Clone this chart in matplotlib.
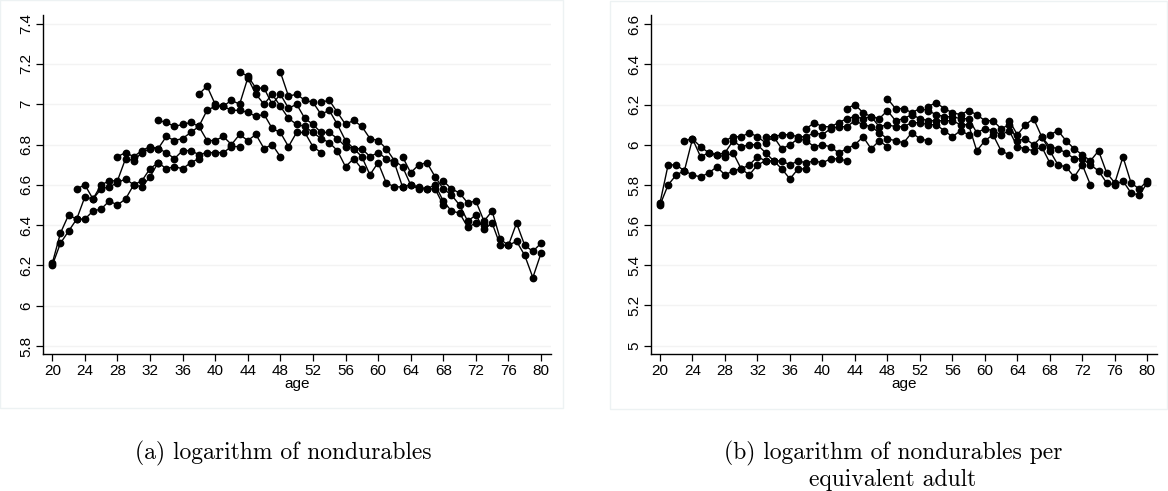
import matplotlib
matplotlib.use("Agg")
import matplotlib.pyplot as plt
from matplotlib.patches import Rectangle

# ---- data: cohort profiles, (first age shown, values by age) ----
# panel (a): log nondurables
a_c13 = (20, [6.20, 6.31, 6.37, 6.43, 6.43, 6.47, 6.48, 6.52, 6.50, 6.53, 6.60, 6.59, 6.64, 6.71])
a_c18 = (20, [6.21, 6.36, 6.45, 6.43, 6.54, 6.53, 6.58, 6.59, 6.61, 6.63, 6.60, 6.62, 6.68, 6.71,
              6.68, 6.69, 6.68, 6.71, 6.73])
a_c23 = (23, [6.58, 6.60, 6.53, 6.60, 6.62, 6.62, 6.73, 6.72, 6.76, 6.78, 6.78, 6.76, 6.73, 6.77,
              6.77, 6.75, 6.76, 6.76, 6.76, 6.79, 6.79])
a_c28 = (28, [6.74, 6.76, 6.74, 6.77, 6.79, 6.78, 6.84, 6.82, 6.83, 6.86, 6.89, 6.82, 6.82, 6.84,
              6.80, 6.85, 6.82, 6.85, 6.78, 6.80, 6.74])
a_c33 = (33, [6.92, 6.91, 6.89, 6.90, 6.91, 6.89, 6.97, 6.99, 6.99, 6.97, 6.97, 6.96, 6.94, 6.95,
              6.88, 6.86, 6.79, 6.86, 6.86, 6.79, 6.76])
a_c38 = (38, [7.05, 7.09, 7.00, 6.99, 7.02, 7.00, 7.13, 7.05, 7.00, 7.05, 6.99, 6.93, 6.90, 6.89,
              6.86, 6.83, 6.81, 6.77, 6.69, 6.73, 6.68])
a_c43 = (43, [7.16, 7.14, 7.08, 7.08, 7.00, 7.05, 6.98, 7.00, 6.93, 6.90, 6.86, 6.86, 6.83, 6.79,
              6.78, 6.74, 6.65, 6.71, 6.61, 6.59, 6.59])
a_c48 = (48, [7.16, 7.04, 7.05, 7.02, 7.01, 6.95, 6.97, 6.90, 6.82, 6.78, 6.78, 6.74, 6.76, 6.73,
              6.71, 6.59, 6.60, 6.58, 6.58, 6.58, 6.50])
a_c53 = (53, [7.01, 7.02, 6.96, 6.90, 6.92, 6.89, 6.83, 6.82, 6.78, 6.72, 6.69, 6.60, 6.59, 6.58,
              6.60, 6.52, 6.47, 6.46, 6.39, 6.41, 6.40])
a_c63 = (63, [6.74, 6.66, 6.70, 6.71, 6.64, 6.58, 6.55, 6.50, 6.42, 6.45, 6.38, 6.41, 6.30, 6.30,
              6.32, 6.25, 6.14, 6.26])
a_c68 = (68, [6.62, 6.58, 6.56, 6.51, 6.52, 6.42, 6.47, 6.33, 6.30, 6.41, 6.30, 6.27, 6.31])

# panel (b): log nondurables per equivalent adult
b_c13 = (20, [5.70, 5.80, 5.85, 5.87, 5.85, 5.84, 5.86, 5.89, 5.85, 5.87, 5.88, 5.85, 5.90, 5.92])
b_c18 = (20, [5.71, 5.90, 5.90, 5.87, 6.03, 5.94, 5.96, 5.95, 5.94, 5.96, 5.88, 5.90, 5.94, 5.92,
              5.92, 5.88, 5.83, 5.88, 5.88])
b_c23 = (23, [6.02, 6.03, 5.99, 5.96, 5.95, 5.96, 6.02, 5.99, 6.00, 6.00, 5.96, 5.92, 5.92, 5.90,
              5.92, 5.91, 5.92, 5.91, 5.93, 5.93, 5.92])
b_c28 = (28, [6.02, 6.04, 6.04, 6.06, 6.04, 6.01, 6.04, 5.98, 6.00, 6.03, 6.02, 5.99, 6.00, 5.99,
              5.96, 5.98, 6.00, 6.04, 5.98, 6.02, 5.99])
b_c33 = (33, [6.04, 6.04, 6.05, 6.05, 6.04, 6.04, 6.06, 6.05, 6.08, 6.09, 6.09, 6.12, 6.10, 6.09,
              6.06, 6.03, 6.02, 6.01, 6.06, 6.03, 6.02])
b_c38 = (38, [6.08, 6.11, 6.09, 6.09, 6.11, 6.13, 6.14, 6.13, 6.14, 6.09, 6.10, 6.09, 6.09, 6.11,
              6.11, 6.10, 6.10, 6.07, 6.04, 6.07, 6.05])
b_c43 = (43, [6.18, 6.20, 6.16, 6.14, 6.13, 6.17, 6.12, 6.13, 6.15, 6.13, 6.12, 6.12, 6.12, 6.12,
              6.10, 6.10, 5.97, 6.02, 6.05, 5.97, 5.95])
b_c48 = (48, [6.23, 6.18, 6.18, 6.16, 6.18, 6.17, 6.15, 6.14, 6.14, 6.13, 6.13, 6.06, 6.08, 6.07,
              6.05, 6.07, 5.99, 5.98, 5.97, 5.99, 5.91])
b_c53 = (53, [6.19, 6.21, 6.18, 6.16, 6.15, 6.17, 6.15, 6.12, 6.12, 6.08, 6.10, 6.02, 6.03, 6.00,
              6.04, 5.97, 5.90, 5.89, 5.84, 5.90, 5.80])
b_c63 = (63, [6.12, 6.05, 6.10, 6.13, 6.04, 5.99, 5.98, 5.96, 5.93, 5.93, 5.90, 5.87, 5.81, 5.80,
              5.82, 5.76, 5.75, 5.81])
b_c68 = (68, [6.05, 6.07, 6.02, 5.98, 5.95, 5.92, 5.97, 5.86, 5.81, 5.94, 5.81, 5.78, 5.82])

x_ticks = list(range(20, 81, 4))
a_yticks = [5.8, 6.0, 6.2, 6.4, 6.6, 6.8, 7.0, 7.2, 7.4]
b_yticks = [5.0, 5.2, 5.4, 5.6, 5.8, 6.0, 6.2, 6.4, 6.6]

a_lines = [a_c13, a_c18, a_c23, a_c28, a_c33, a_c38, a_c43, a_c48, a_c53, a_c63, a_c68]
b_lines = [b_c13, b_c18, b_c23, b_c28, b_c33, b_c38, b_c43, b_c48, b_c53, b_c63, b_c68]

plt.rcParams['font.family'] = ['Liberation Sans', 'DejaVu Sans']

fig = plt.figure(figsize=(11.68, 4.91), dpi=100)

# faint graph-region borders
fig.add_artist(Rectangle((0.0, 83 / 491), 563 / 1168, 408 / 491, transform=fig.transFigure,
                         fill=False, ec='#edf2f3', lw=1.0))
fig.add_artist(Rectangle((610 / 1168, 82 / 491), 557 / 1168, 408 / 491, transform=fig.transFigure,
                         fill=False, ec='#edf2f3', lw=1.0))


def panel(rect, lines, yticks, xlim, ylim):
    ax = fig.add_axes(rect)
    for y in yticks:
        ax.axhline(y, color='#f3f3f3', lw=1.0, zorder=0)
    for start, vals in lines:
        ages = list(range(start, start + len(vals)))
        ax.plot(ages, vals, '-o', color='black', lw=1.0, ms=4.6, zorder=3)
    ax.set_xlim(*xlim)
    ax.set_ylim(*ylim)
    ax.set_xticks(x_ticks)
    ax.set_yticks(yticks)
    ax.set_yticklabels([f"{v:g}" for v in yticks])
    ax.spines['top'].set_visible(False)
    ax.spines['right'].set_visible(False)
    ax.spines['left'].set_linewidth(1.0)
    ax.spines['bottom'].set_linewidth(1.0)
    ax.tick_params(length=5, width=0.9, labelsize=11, pad=2)
    ax.tick_params(axis='y', labelrotation=90)
    for lab in ax.get_yticklabels():
        lab.set_va('center')
    ax.set_xlabel('age', fontsize=11, labelpad=-1)
    return ax


panel([43.3 / 1168, 136.7 / 491, 507.4 / 1168, 339.3 / 491], a_lines, a_yticks,
      (18.9, 81.19), (5.759, 7.443))
panel([651.3 / 1168, 136.7 / 491, 506 / 1168, 339.3 / 491], b_lines, b_yticks,
      (18.93, 81.23), (4.957, 6.646))

cap = dict(family='cmr10', fontsize=17, ha='center', va='baseline')
fig.text(283 / 1168, 1 - 459 / 491, '(a) logarithm of nondurables', **cap)
fig.text(893 / 1168, 1 - 459 / 491, '(b) logarithm of nondurables per', **cap)
fig.text(893 / 1168, 1 - 486 / 491, 'equivalent adult', **cap)

fig.savefig('out.png', dpi=100)
